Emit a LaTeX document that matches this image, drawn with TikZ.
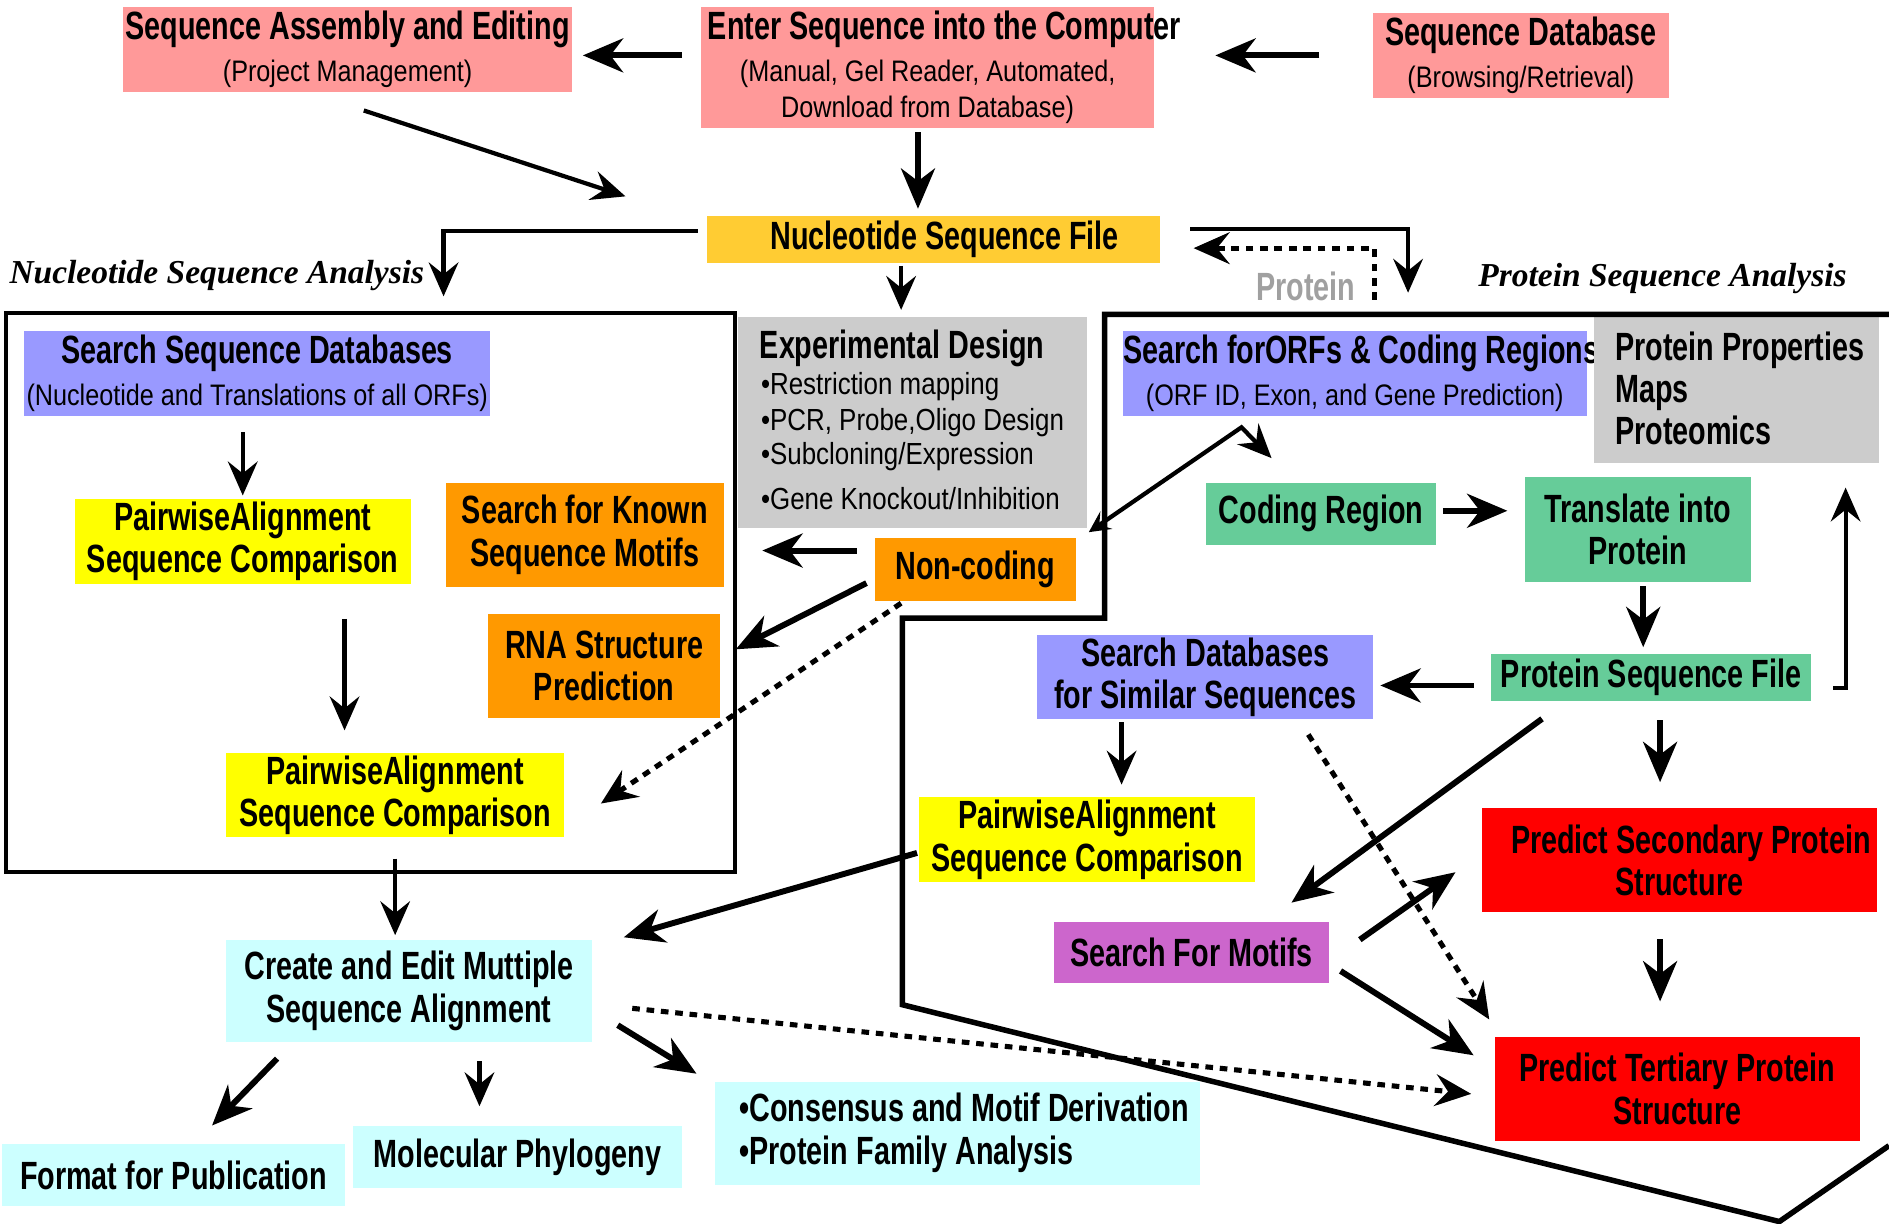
\documentclass[tikz,border=0pt]{standalone}
\usepackage{fontspec}
\setmainfont{Liberation Sans}
\newfontfamily\hfont{Liberation Sans}[FakeStretch=0.73]
\newfontfamily\sfont{Liberation Sans}[FakeStretch=0.85]
\newfontfamily\ifont{Liberation Serif}
\usetikzlibrary{arrows.meta,calc}
\definecolor{pinkc}{HTML}{FF9999}
\definecolor{goldc}{HTML}{FFCC33}
\definecolor{periw}{HTML}{9999FF}
\definecolor{yelc}{HTML}{FFFF00}
\definecolor{orc}{HTML}{FF9900}
\definecolor{grayc}{HTML}{CCCCCC}
\definecolor{greenc}{HTML}{66CC99}
\definecolor{redc}{HTML}{FF0000}
\definecolor{magc}{HTML}{CC66CC}
\definecolor{cyanc}{HTML}{CCFFFF}
\definecolor{protgray}{HTML}{A0A0A0}
\newcommand\mysub[1]{{\sfont\mdseries\fontsize{7.0}{10}\selectfont #1}}
\newcommand\ovl[2]{\makebox[0pt]{\hspace{#1}#2}}
\tikzset{
  box/.style={rectangle, inner sep=0pt, draw=none, align=center,
    font=\hfont\bfseries\fontsize{9.3}{10}\selectfont},
  btxt/.style={inner sep=0pt, anchor=west, align=left,
    font=\hfont\bfseries\fontsize{9.3}{10}\selectfont},
  bul/.style={inner sep=0pt, anchor=west,
    font=\sfont\fontsize{7.2}{8}\selectfont},
  hd/.style={inner sep=0pt, font=\ifont\bfseries\itshape\fontsize{7.9}{9}\selectfont},
  thk/.style={line width=1.4pt, -{Stealth[length=9.5pt,width=8pt,inset=3pt]}},
  med/.style={line width=1pt, -{Stealth[length=8pt,width=7pt,inset=2.8pt]}},
  dotarr/.style={line width=1.2pt, dash pattern=on 1.8pt off 1.6pt,
    -{Stealth[length=8.5pt,width=7.5pt,inset=3pt]}},
}
\begin{document}
\begin{tikzpicture}[x=0.01cm,y=-0.01cm]
\useasboundingbox (0,0) rectangle (1568,1016);

% ---------- boxes ----------
\node[box,fill=pinkc,minimum width=3.73cm,minimum height=0.70cm] (A) at (288.5,41)
  {Sequence Assembly and Editing\\\mysub{(Project Management)}};
\node[box,fill=pinkc,minimum width=3.76cm,minimum height=1.00cm] (B) at (770,56)
  {\ovl{0.28cm}{Enter Sequence into the Computer}\\\mysub{(Manual, Gel Reader, Automated,}\\[-1.5pt]\mysub{Download from Database)}};
\node[box,fill=pinkc,minimum width=2.45cm,minimum height=0.70cm] (C) at (1262.5,46)
  {Sequence Database\\\mysub{(Browsing/Retrieval)}};
\node[box,fill=goldc,minimum width=3.76cm,minimum height=0.39cm] (D) at (775,198.5)
  {\ovl{0.18cm}{Nucleotide Sequence File}};
\node[box,fill=periw,minimum width=3.87cm,minimum height=0.70cm] (E) at (213.5,310)
  {Search Sequence Databases\\\mysub{(Nucleotide and Translations of all ORFs)}};
\node[box,fill=yelc,minimum width=2.79cm,minimum height=0.71cm] (F) at (201.5,449.5)
  {PairwiseAlignment\\Sequence Comparison};
\node[box,fill=yelc,minimum width=2.80cm,minimum height=0.70cm] (G) at (328,660)
  {PairwiseAlignment\\Sequence Comparison};
\node[box,fill=orc,minimum width=2.31cm,minimum height=0.86cm] (H) at (485.5,444)
  {Search for Known\\Sequence Motifs};
\node[box,fill=orc,minimum width=1.93cm,minimum height=0.86cm] (I) at (501.5,553)
  {RNA Structure\\Prediction};
\node[box,fill=grayc,minimum width=2.89cm,minimum height=1.75cm] (J) at (757.5,350.5) {};
\node[box,fill=orc,minimum width=1.67cm,minimum height=0.52cm] (K) at (809.5,473)
  {Non-coding};
\node[box,fill=periw,minimum width=3.85cm,minimum height=0.70cm] (L) at (1124.5,310)
  {\ovl{0.11cm}{Search forORFs \& Coding Regions}\\\mysub{(ORF ID, Exon, and Gene Prediction)}};
\node[box,fill=grayc,minimum width=2.37cm,minimum height=1.21cm] (M) at (1441.5,323.5) {};
\node[box,fill=greenc,minimum width=1.91cm,minimum height=0.51cm] (N) at (1096.5,426.5)
  {Coding Region};
\node[box,fill=greenc,minimum width=1.87cm,minimum height=0.87cm] (O) at (1359.5,439.5)
  {Translate into\\Protein};
\node[box,fill=greenc,minimum width=2.65cm,minimum height=0.39cm] (P) at (1370.5,562.5)
  {Protein Sequence File};
\node[box,fill=periw,minimum width=2.79cm,minimum height=0.70cm] (Q) at (1000.5,562)
  {Search Databases\\for Similar Sequences};
\node[box,fill=yelc,minimum width=2.79cm,minimum height=0.70cm] (R) at (902.5,697)
  {PairwiseAlignment\\Sequence Comparison};
\node[box,fill=redc,minimum width=3.28cm,minimum height=0.86cm] (S) at (1394,714)
  {\ovl{0.19cm}{Predict Secondary Protein}\\Structure};
\node[box,fill=magc,minimum width=2.28cm,minimum height=0.51cm] (T) at (989,790.5)
  {Search For Motifs};
\node[box,fill=redc,minimum width=3.03cm,minimum height=0.86cm] (U) at (1392.5,904)
  {Predict Tertiary Protein\\Structure};
\node[box,fill=cyanc,minimum width=3.03cm,minimum height=0.85cm] (V) at (339.5,822.5)
  {Create and Edit Muttiple\\Sequence Alignment};
\node[box,fill=cyanc,minimum width=2.84cm,minimum height=0.51cm] (W) at (144,975.5)
  {Format for Publication};
\node[box,fill=cyanc,minimum width=2.73cm,minimum height=0.51cm] (X) at (429.5,960.5)
  {Molecular Phylogeny};
\node[box,fill=cyanc,minimum width=4.02cm,minimum height=0.86cm] (Y) at (795,941) {};

% ---------- left-aligned texts ----------
\node[btxt] (Jt) at (630,289) {Experimental Design};
\node[bul] (J1) at (631,321) {•Restriction mapping};
\node[bul] (J2) at (631,351) {•PCR, Probe,Oligo Design};
\node[bul] (J3) at (631,379) {•Subcloning/Expression};
\node[bul] (J4) at (631,414) {•Gene Knockout/Inhibition};
\node[btxt] (Mt) at (1340,322.5) {Protein Properties\\Maps\\Proteomics};
\node[btxt] (Yt) at (613,940) {•Consensus and Motif Derivation\\[0.2pt]•Protein Family Analysis};

% ---------- headings ----------
\node[hd] (nsa) at (180,229) {Nucleotide Sequence Analysis};
\node[hd] (psa) at (1380,231) {Protein Sequence Analysis};
\node[inner sep=0pt, text=protgray, font=\hfont\bfseries\fontsize{9.3}{10}\selectfont] (prot) at (1084,238) {Protein};

% ---------- frames ----------
\draw[line width=0.9pt] (5,260) rectangle (610,724);
\draw[line width=1.3pt, line join=miter] (1568,261) -- (917,261) -- (917,513) -- (749,513)
  -- (749,834) -- (1477,1014) -- (1568,951);

% ---------- connectors ----------
\draw[thk] ($(B.west)+(-15,-10)$) -- ($(A.east)+(8,5)$);
\draw[thk] ($(C.west)+(-44,0)$) -- ($(B.east)+(50,-10)$);
\draw[thk] ($(B.south)+(-8,3)$) -- ($(D.north)+(-13,-5)$);
\draw[med] ($(A.south)+(13.5,15)$) -- ($(D.west)+(-67,-35.5)$);
\draw[med] ($(D.west)+(-7,-6.5)$) -| ($(D.west)+(-218,47.5)$);
\draw[med] ($(D.south)+(-27,2)$) -- ($(J.north)+(-9.5,-5)$);
\draw[med] ($(D.east)+(24,-8.5)$) -| ($(D.east)+(205,44.5)$);
\draw[dotarr] ($(D.east)+(177,50.5)$) |- ($(D.east)+(27,7.5)$);
\draw[med] ($(E.south)+(-12,13)$) -- ($(F.north)+(0,-2)$);
\draw[med] ($(F.south)+(84.5,28)$) -- ($(G.north)+(-42,-18)$);
\draw[thk] ($(K.west)+(-14,-16)$) -- ($(H.east)+(31,13)$);
\draw[thk] ($(K.west)+(-6,11)$) -- ($(I.east)+(12,-14)$);
\draw[dotarr] ($(K.south)+(-61.5,1)$) -- ($(G.east)+(30,7)$);
\draw[med, {Stealth[length=5pt,width=5pt,inset=2pt]}-{Stealth[length=8pt,width=7pt,inset=2.8pt]}]
  ($(J.south east)+(1,3)$) -- ($(L.south)+(-94,9)$) -- ($(N.north)+(-41,-20)$);
\draw[thk] ($(N.east)+(5,-2.5)$) -- ($(O.west)+(-14,-15.5)$);
\draw[thk] ($(O.south)+(4.5,3)$) -- ($(P.north)+(-6.5,-5)$);
\draw[med] ($(P.east)+(18,8.5)$) -| ($(M.south)+(90.5,20)$);
\draw[thk] ($(P.west)+(-14,6.5)$) -- ($(Q.east)+(5,7)$);
\draw[med] ($(Q.south)+(-69.5,2)$) -- ($(R.north)+(28.5,-10)$);
\draw[thk] ($(R.west)+(-1,11)$) -- ($(V.east)+(26,-44.5)$);
\draw[thk] ($(P.south)+(7.5,15)$) -- ($(S.north)+(-16,-21)$);
\draw[thk] ($(P.south)+(-90.5,14)$) -- ($(T.north)+(83,-15)$);
\draw[dotarr] ($(Q.south)+(85.5,12)$) -- ($(U.north west)+(-4,-14)$);
\draw[thk] ($(S.south)+(-16,22)$) -- ($(U.north)+(-14.5,-29)$);
\draw[thk] ($(T.east)+(25,-10.5)$) -- ($(S.west)+(-21,10)$);
\draw[thk] ($(T.east)+(9,15.5)$) -- ($(U.west)+(-17,-28)$);
\draw[dotarr] ($(V.east)+(33,14.5)$) -- ($(U.west)+(-19,4)$);
\draw[med] ($(G.south)+(0,17)$) -- ($(V.north)+(-11.5,-3)$);
\draw[thk] ($(V.south)+(-109.5,13)$) -- ($(W.north)+(32,-15)$);
\draw[med] ($(V.south)+(58.5,15)$) -- ($(X.north)+(-31.5,-16)$);
\draw[thk] ($(V.east)+(21,28.5)$) -- ($(Y.north west)+(-15,-6)$);
\end{tikzpicture}
\end{document}
